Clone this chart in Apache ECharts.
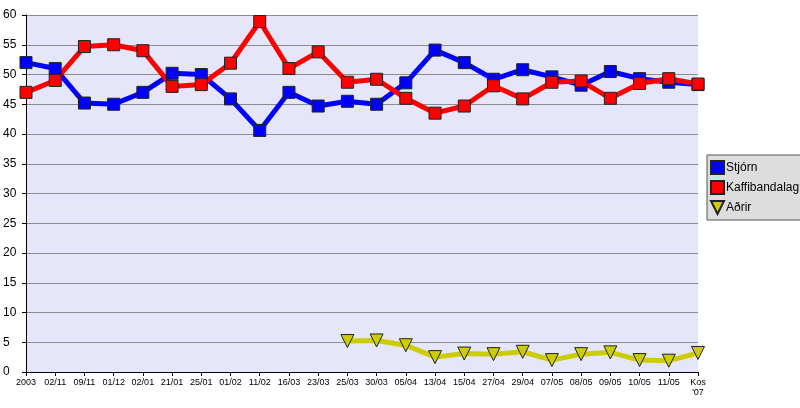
<!DOCTYPE html>
<html><head><meta charset="utf-8">
<script src="https://cdn.jsdelivr.net/npm/echarts@6/dist/echarts.min.js"></script>
<style>html,body{margin:0;padding:0;background:#fff}#c{width:800px;height:408px}</style>
</head><body><div id="c"></div>
<script>
const categories = ["2003","02/11","09/11","01/12","02/01","21/01","25/01","01/02","11/02","16/03","23/03","25/03","30/03","05/04","13/04","15/04","27/04","29/04","07/05","08/05","09/05","10/05","11/05","Kos\n'07"];
const stjorn = [52,51,45.2,45,47,50.2,50,45.9,40.6,47,44.7,45.5,45,48.6,54.1,52,49.2,50.8,49.6,48.2,50.5,49.3,48.7,48.3];
const kaffi = [47,49,54.7,55,54,48,48.3,51.9,58.9,51,53.8,48.7,49.2,46,43.5,44.7,48.1,45.9,48.7,48.9,46,48.5,49.3,48.4];
const adrir = [null,null,null,null,null,null,null,null,null,null,null,5.2,5.3,4.5,2.5,3.1,3.0,3.4,2.0,3.0,3.3,2.0,1.9,3.2];
const yTicks = [0,5,10,15,20,25,30,35,40,45,50,55,60];

const chart = echarts.init(document.getElementById('c'));
chart.setOption({
  animation:false,
  textStyle:{fontFamily:'Liberation Sans, Arial, sans-serif'},
  grid:{left:25,right:102,top:15,bottom:36,show:true,backgroundColor:'#e6e6fa',borderWidth:0},
  legend:{
    orient:'vertical',left:707,top:155,
    backgroundColor:'#dddddd',borderColor:'#555',borderWidth:1,borderRadius:0,
    padding:[5,30,5,3],itemGap:5,itemWidth:13,itemHeight:13,
    textStyle:{fontSize:12,color:'#000',padding:[0,0,0,-3]},
    data:[
      {name:'Stjórn',icon:'rect'},
      {name:'Kaffibandalag',icon:'rect'},
      {name:'Aðrir',icon:'path://M0,0L10,0L5,10Z'}
    ]
  },
  xAxis:{
    type:'category',data:categories,boundaryGap:false,
    axisLine:{lineStyle:{color:'#000',width:1}},
    axisTick:{show:true,length:4,alignWithLabel:true,interval:0,lineStyle:{color:'#000'}},
    axisLabel:{interval:0,fontSize:9,color:'#000',margin:6,lineHeight:10},
    splitLine:{show:false}
  },
  yAxis:{
    type:'value',min:0,max:60,interval:5,
    axisLine:{show:true,lineStyle:{color:'#000',width:1}},
    axisTick:{show:true,length:4,lineStyle:{color:'#000'}},
    axisLabel:{fontSize:12,color:'#000',margin:23,align:'left',
      formatter:v=>yTicks.includes(v)?String(v):''},
    splitLine:{show:true,lineStyle:{color:'#8c8c8c',width:1}}
  },
  series:[
    {name:'Stjórn',type:'line',data:stjorn,symbol:'rect',symbolSize:12,
      lineStyle:{color:'#0000ff',width:5},
      itemStyle:{color:'#0000ff',borderColor:'#222',borderWidth:1}},
    {name:'Kaffibandalag',type:'line',data:kaffi,symbol:'rect',symbolSize:12,
      lineStyle:{color:'#ff0000',width:5},
      itemStyle:{color:'#ff0000',borderColor:'#222',borderWidth:1}},
    {name:'Aðrir',type:'line',data:adrir,symbol:'triangle',symbolRotate:180,symbolSize:13,
      lineStyle:{color:'#cccc00',width:5},
      itemStyle:{color:'#cccc00',borderColor:'#222',borderWidth:1}}
  ]
});
</script></body></html>
